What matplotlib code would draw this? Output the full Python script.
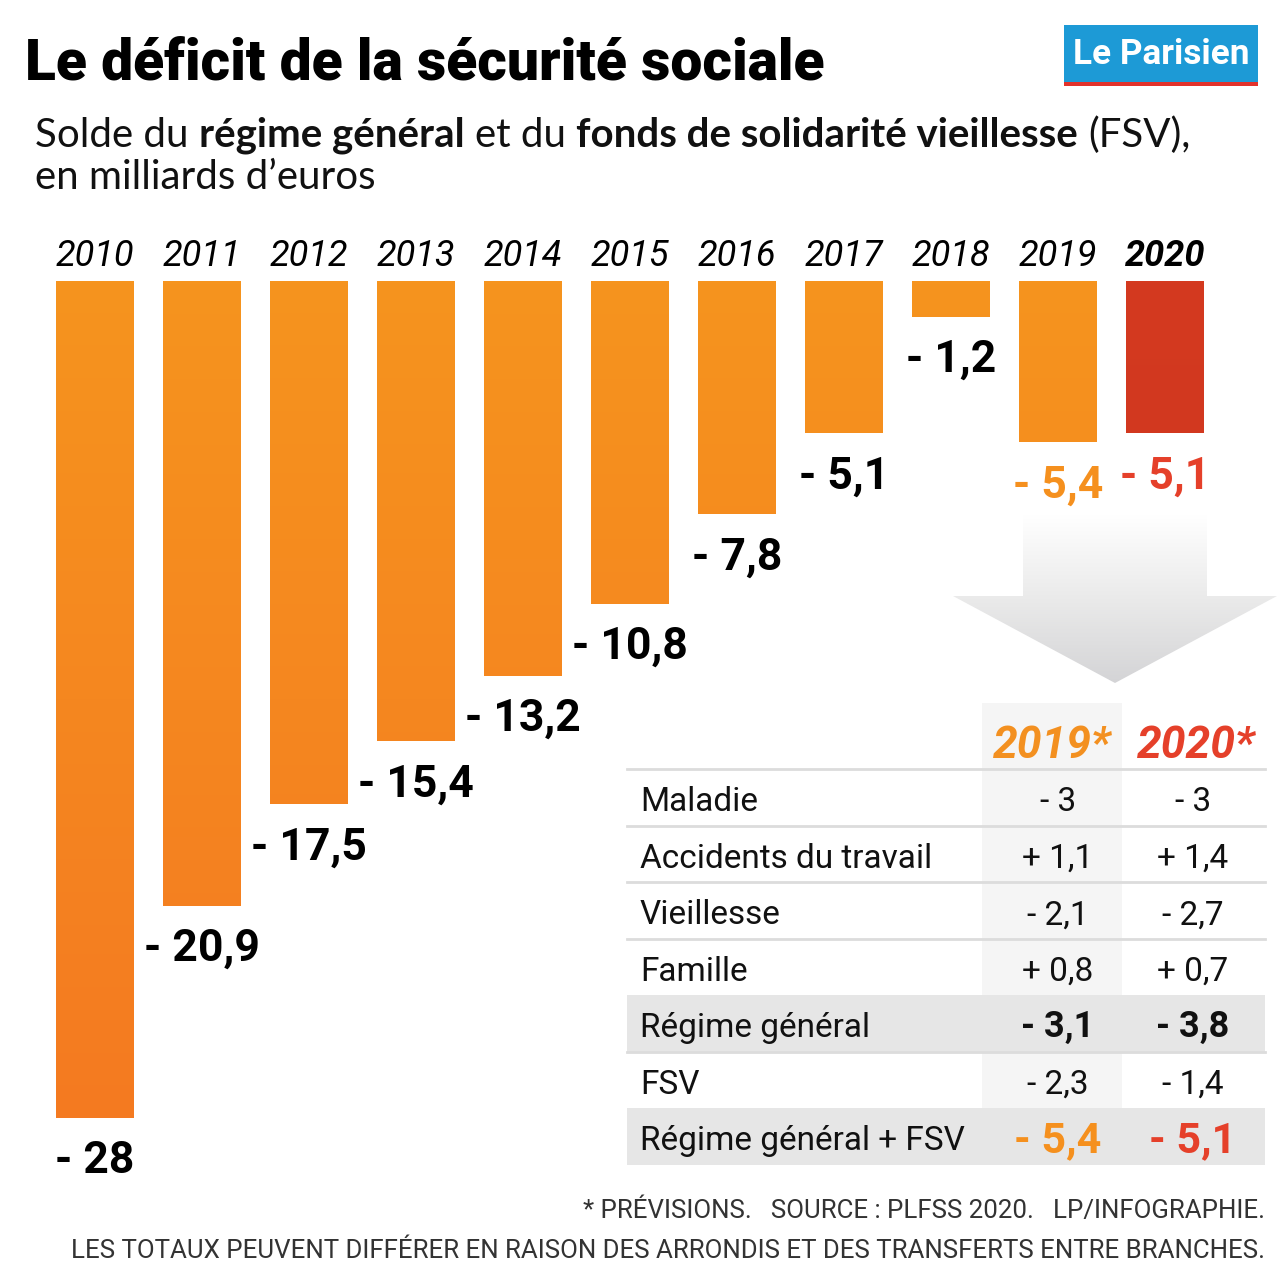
import numpy as np
import matplotlib
matplotlib.use("Agg")
import matplotlib.pyplot as plt
from matplotlib import font_manager
from matplotlib.colors import LinearSegmentedColormap
from matplotlib.patches import Rectangle, Polygon

# data
years = ["2010", "2011", "2012", "2013", "2014", "2015", "2016", "2017", "2018", "2019", "2020"]
balance = [-28, -20.9, -17.5, -15.4, -13.2, -10.8, -7.8, -5.1, -1.2, -5.4, -5.1]

branches = ["Maladie", "Accidents du travail", "Vieillesse", "Famille",
            "Régime général", "FSV", "Régime général + FSV"]
forecast_2019 = [-3, 1.1, -2.1, 0.8, -3.1, -2.3, -5.4]
forecast_2020 = [-3, 1.4, -2.7, 0.7, -3.8, -1.4, -5.1]


def pick(name, fallback):
    try:
        font_manager.findfont(font_manager.FontProperties(family=name), fallback_to_default=False)
        return name
    except ValueError:
        return fallback


NARROW = pick("Liberation Sans Narrow", "Roboto")
SANS = pick("Lato", "DejaVu Sans")

ORANGE = "#f5901e"
RED = "#e5402a"


def fmt(v, sign=False):
    s = f"{abs(v):g}".replace(".", ",")
    if v < 0:
        return "- " + s
    return ("+ " + s) if sign else s


W, H = 1280, 1275
fig = plt.figure(figsize=(W / 100, H / 100), dpi=100)
renderer = fig.canvas.get_renderer()

# overlay axes in pixel units for the text, table, arrow and logo
ov = fig.add_axes([0, 0, 1, 1], zorder=0)
ov.set_xlim(0, W)
ov.set_ylim(H, 0)
ov.axis("off")

# bar axes
PX = 837 / 28  # pixels per billion
top_px = 281
ax = fig.add_axes([41.5 / W, 0, 1177 / W, (H - top_px) / H], zorder=1)
ax.patch.set_visible(False)
x = np.arange(len(years))
bars = ax.bar(x, balance, width=0.72, color=ORANGE, linewidth=0)

grad = np.linspace(0, 1, 256).reshape(-1, 1)
cm_orange = LinearSegmentedColormap.from_list("o", ["#f6941e", "#f47a21"])
cm_red = LinearSegmentedColormap.from_list("r", ["#d43a1f", "#c9301f"])
for i, b in enumerate(bars):
    cm = cm_red if i == len(bars) - 1 else cm_orange
    im = ax.imshow(grad, extent=(-0.5, 10.5, -28, 0), aspect="auto", cmap=cm,
                   origin="upper", zorder=2)
    im.set_clip_path(b)

ax.set_xlim(-0.5, 10.5)
ax.set_ylim(-(H - top_px) / PX, 0)
for s in ax.spines.values():
    s.set_visible(False)
ax.set_yticks([])
ax.set_xticks(x, years)
ax.xaxis.tick_top()
ax.tick_params(axis="x", length=0, pad=5, labelsize=26)
for i, lab in enumerate(ax.get_xticklabels()):
    lab.set_family(NARROW)
    lab.set_fontstyle("italic")
    if i == len(years) - 1:
        lab.set_fontweight("bold")

for i, v in enumerate(balance):
    col = "black"
    if i == len(balance) - 2:
        col = ORANGE
    elif i == len(balance) - 1:
        col = RED
    ax.annotate(fmt(v), (i, v), xytext=(0, -16), textcoords="offset points",
                ha="center", va="top", fontsize=32, fontweight="bold",
                family=NARROW, color=col)


def width(s, **kw):
    t = ov.text(0, 0, s, **kw)
    w = t.get_window_extent(renderer).width
    t.remove()
    return w


def draw_runs(x0, y0, runs, size, family, color="#111111", draw=True):
    sp = width("a a", fontsize=size, family=family) - width("aa", fontsize=size, family=family)
    xx = x0
    for j, (s, wt) in enumerate(runs):
        kw = dict(fontsize=size, fontweight=wt, family=family)
        w = width(s, **kw)
        if draw:
            ov.text(xx, y0, s, va="baseline", color=color, **kw)
        xx += w + (sp if j < len(runs) - 1 else 0)
    return xx - x0


# title
title = "Le déficit de la sécurité sociale"
tsize = 40 * 800 / width(title, fontsize=40, fontweight="heavy", family=NARROW)
ov.text(25, 80, title, fontsize=tsize, fontweight="heavy", family=NARROW, va="baseline")

# subtitle
runs = [("Solde du", "normal"), ("régime général", "bold"), ("et du", "normal"),
        ("fonds de solidarité vieillesse", "bold"), ("(FSV),", "normal")]
w0 = draw_runs(35, 147, runs, 28, SANS, draw=False)
ssize = 28 * 1157 / w0
draw_runs(35, 147, runs, ssize, SANS)
ov.text(35, 189, "en milliards d’euros", fontsize=ssize, fontweight="normal",
        family=SANS, va="baseline", color="#111111")

# logo
ov.add_patch(Rectangle((1064, 25), 194, 57, color="#1d9ad6", lw=0))
ov.add_patch(Rectangle((1064, 82), 194, 4, color="#e2322b", lw=0))
lsize = 30 * 176 / width("Le Parisien", fontsize=30, fontweight="bold", family=NARROW)
ov.text(1161, 55, "Le Parisien", color="white", fontsize=lsize, fontweight="bold",
        family=NARROW, ha="center", va="center")

# arrow
arrow = Polygon([(1023, 515), (1207, 515), (1207, 596), (1277, 596), (1115, 683),
                 (953, 596), (1023, 596)], closed=True, facecolor="none", edgecolor="none")
ov.add_patch(arrow)
cm_arrow = LinearSegmentedColormap.from_list("a", ["#ffffff", "#eaeaea", "#d4d4d6"])
im = ov.imshow(grad, extent=(950, 1280, 683, 515), aspect="auto", cmap=cm_arrow,
               origin="upper", zorder=1)
im.set_clip_path(arrow)
ov.set_xlim(0, W)
ov.set_ylim(H, 0)

# table
tx0, tx1 = 627, 1265
row_top = 769
row_h = 56.5
c19, c20 = 1058, 1193
ov.add_patch(Rectangle((982, 703), 140, row_top + 7 * row_h - 703, color="#f5f5f5", lw=0, zorder=1))
for r in range(len(branches)):
    y0 = row_top + r * row_h
    if r in (4, 6):
        ov.add_patch(Rectangle((tx0, y0), tx1 - tx0, row_h, color="#e6e6e6", lw=0, zorder=1))
    else:
        ov.plot([tx0, tx1], [y0, y0], color="#dcdcdc", lw=2, zorder=2)

ov.text(1052, 758, "2019*", color="#f39020", fontsize=32, fontweight="bold",
        fontstyle="italic", family=NARROW, ha="center", va="baseline", zorder=3)
ov.text(1196, 758, "2020*", color=RED, fontsize=32, fontweight="bold",
        fontstyle="italic", family=NARROW, ha="center", va="baseline", zorder=3)

for r, name in enumerate(branches):
    yc = row_top + (r + 0.5) * row_h
    base = yc + 14
    ov.text(640, base, name, fontsize=24, family=NARROW, va="baseline", color="#111111", zorder=3)
    if r == 4:
        kw = dict(fontsize=26, fontweight="bold")
        cols = ("#111111", "#111111")
    elif r == 6:
        kw = dict(fontsize=31, fontweight="bold")
        cols = (ORANGE, RED)
        base += 2
    else:
        kw = dict(fontsize=24)
        cols = ("#111111", "#111111")
    ov.text(c19, base, fmt(forecast_2019[r], sign=True), ha="center", va="baseline",
            family=NARROW, color=cols[0], zorder=3, **kw)
    ov.text(c20, base, fmt(forecast_2020[r], sign=True), ha="center", va="baseline",
            family=NARROW, color=cols[1], zorder=3, **kw)

# footnotes
note1 = "* PRÉVISIONS.   SOURCE : PLFSS 2020.   LP/INFOGRAPHIE."
note2 = "LES TOTAUX PEUVENT DIFFÉRER EN RAISON DES ARRONDIS ET DES TRANSFERTS ENTRE BRANCHES."
fsize = 20 * 1200 / width(note2, fontsize=20, family=NARROW)
ov.text(1265, 1218, note1, fontsize=fsize, family=NARROW, ha="right", va="baseline", color="#333333")
ov.text(1265, 1258, note2, fontsize=fsize, family=NARROW, ha="right", va="baseline", color="#333333")

fig.savefig("out.png", dpi=100)
